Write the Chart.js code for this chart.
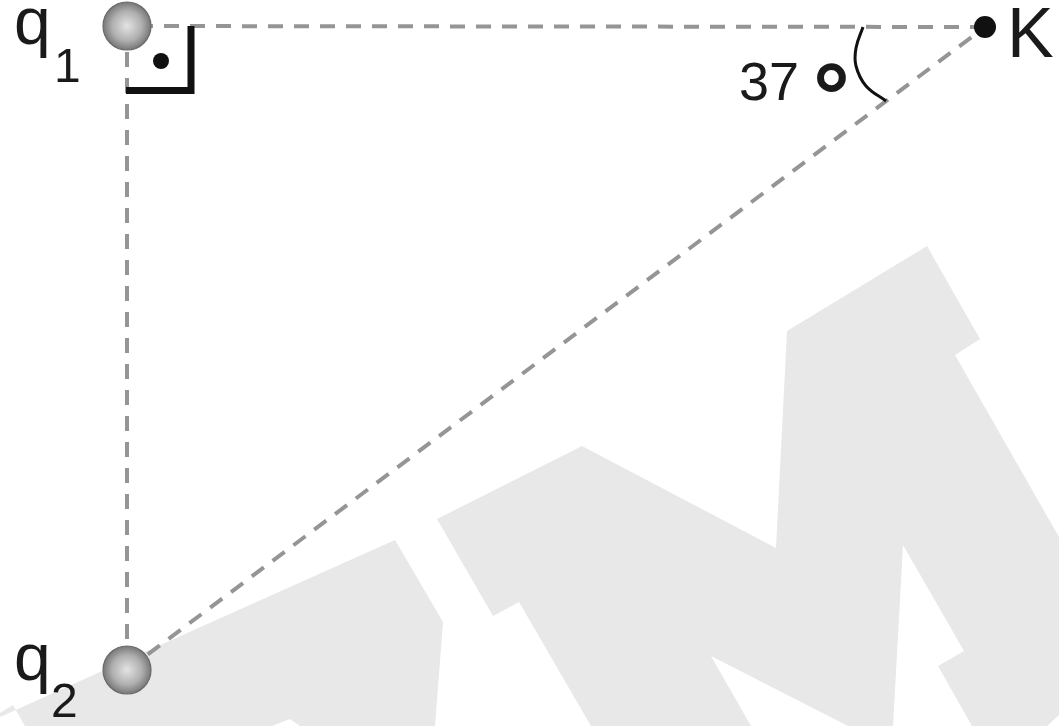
<!DOCTYPE html>
<html>
<head>
<meta charset="utf-8">
<script src="https://cdn.jsdelivr.net/npm/chart.js@4.4.1/dist/chart.umd.min.js"></script>
<style>
  html, body { margin: 0; padding: 0; background: #fff; }
  canvas { display: block; }
</style>
</head>
<body>
<canvas id="myChart" width="1059" height="726"></canvas>
<script>
'use strict'

// positions (page pixels, y down)
const chargeX = [127, 127]
const chargeY = [26, 670]
const pointK = [985, 27]

// dashed construction lines: q1-K, q1-q2, q2-K
const topLineX = [985, 127]
const topLineY = [27, 26]
const leftLineX = [127, 127]
const leftLineY = [26, 670]
const diagLineX = [127, 985]
const diagLineY = [670, 27]

// right angle marker at q1
const cornerX = [126, 191, 191]
const cornerY = [90.5, 90.5, 26]
const cornerDot = [161, 61]

// 37 degree arc at K
const arcX = [863, 856, 856, 866, 886]
const arcY = [27, 48, 66, 86, 101]

// watermark shapes
const markMX = [437, 582, 776, 787, 927, 980, 955, 1059, 1059, 1047, 972, 938, 964, 903, 893, 848, 711, 751, 591, 519, 493, 437]
const markMY = [519, 446, 548, 331, 246, 339, 355, 537, 715, 726, 726, 666, 651, 545, 726, 726, 656, 726, 726, 602, 616, 519]
const markLeftX = [395, 443, 435, 300, 290, 272, 25, 13, 0, 0, 100, 395]
const markLeftY = [540, 622, 726, 726, 719, 726, 726, 705, 713, 717, 672, 540]

// texts
const labelText = ['q', '1', 'q', '2', 'K', '37', '°']
const labelX = [14, 54, 14, 51, 1007, 739, 813]
const labelY = [44, 82, 680, 717, 57, 100, 128]
const labelSize = [66, 48, 66, 48, 70, 54, 92]
const labelWeight = ['normal', 'normal', 'normal', 'normal', 'normal', 'normal', 'bold']

const zip = (xs, ys) => xs.map((x, i) => ({ x: x, y: ys[i] }))

// shaded sphere used as point style
const sphere = document.createElement('canvas')
sphere.width = 52
sphere.height = 52
const sctx = sphere.getContext('2d')
const grad = sctx.createRadialGradient(26, 26, 1, 26, 26, 24)
grad.addColorStop(0, '#e0e0e0')
grad.addColorStop(0.6, '#b0b0b0')
grad.addColorStop(1, '#777')
sctx.beginPath()
sctx.arc(26, 26, 24, 0, Math.PI * 2)
sctx.fillStyle = grad
sctx.fill()
sctx.lineWidth = 1.2
sctx.strokeStyle = '#6a6a6a'
sctx.stroke()

const dashed = (xs, ys) => ({
  data: zip(xs, ys),
  showLine: true,
  borderColor: '#959595',
  borderWidth: 4,
  borderDash: [15, 11],
  pointRadius: 0,
  fill: false,
  order: 5
})

const shape = (xs, ys) => ({
  data: zip(xs, ys),
  showLine: true,
  fill: 'shape',
  backgroundColor: '#e8e8e8',
  borderColor: '#e8e8e8',
  borderWidth: 0,
  pointRadius: 0,
  order: 10
})

const textPlugin = {
  id: 'texts',
  afterDraw(chart) {
    const ctx = chart.ctx
    const sx = chart.scales.x
    const sy = chart.scales.y
    ctx.save()
    ctx.fillStyle = '#1a1a1a'
    ctx.textBaseline = 'alphabetic'
    ctx.textAlign = 'left'
    labelText.forEach((t, i) => {
      ctx.font = labelWeight[i] + ' ' + labelSize[i] + 'px "Liberation Sans", Arial, sans-serif'
      ctx.fillText(t, sx.getPixelForValue(labelX[i]), sy.getPixelForValue(labelY[i]))
    })
    ctx.restore()
  }
}

const ctx = document.getElementById('myChart')

const myChart = new Chart(ctx, {
  type: 'scatter',
  data: {
    datasets: [
      shape(markMX, markMY),
      shape(markLeftX, markLeftY),
      dashed(topLineX, topLineY),
      dashed(leftLineX, leftLineY),
      dashed(diagLineX, diagLineY),
      {
        data: zip(cornerX, cornerY),
        showLine: true,
        borderColor: '#111',
        borderWidth: 7,
        borderJoinStyle: 'miter',
        pointRadius: 0,
        order: 3
      },
      {
        data: zip(arcX, arcY),
        showLine: true,
        tension: 0.4,
        borderColor: '#111',
        borderWidth: 3,
        pointRadius: 0,
        order: 3
      },
      {
        data: [{ x: cornerDot[0], y: cornerDot[1] }, { x: pointK[0], y: pointK[1] }],
        pointRadius: [8, 11],
        pointBackgroundColor: '#111',
        pointBorderWidth: 0,
        order: 2
      },
      {
        data: zip(chargeX, chargeY),
        pointStyle: sphere,
        pointRadius: 25,
        order: 1
      }
    ]
  },
  options: {
    responsive: false,
    animation: false,
    devicePixelRatio: 1,
    events: [],
    layout: { padding: 0, autoPadding: false },
    plugins: {
      legend: { display: false },
      tooltip: { enabled: false }
    },
    scales: {
      x: { type: 'linear', min: 0, max: 1059, display: false },
      y: { type: 'linear', min: 0, max: 726, reverse: true, display: false }
    },
    elements: { line: { borderCapStyle: 'butt' } }
  },
  plugins: [textPlugin]
})
</script>
</body>
</html>
